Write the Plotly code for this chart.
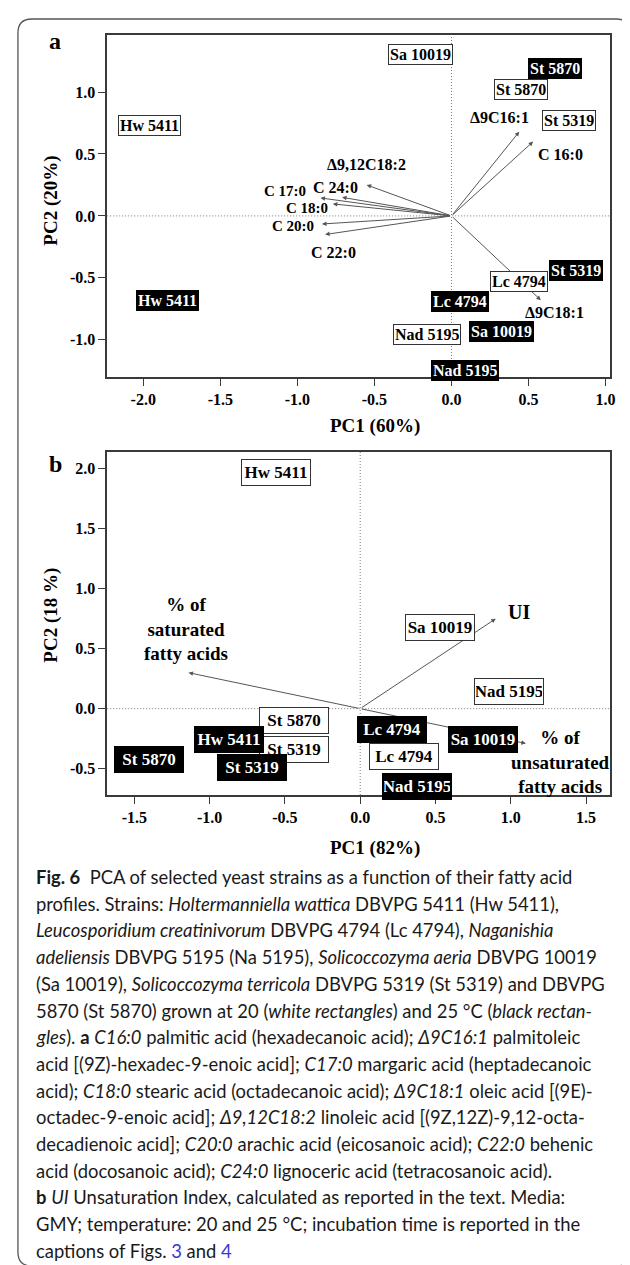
import plotly.graph_objects as go

W, H = 630, 1265

# ---------------- data: panel a ----------------
a_strains_20 = ["Hw 5411", "Sa 10019", "St 5870", "St 5319", "Lc 4794", "Nad 5195"]
a_pc1_20 = [-1.96, -0.20, 0.45, 0.76, 0.44, -0.16]
a_pc2_20 = [0.73, 1.30, 1.02, 0.77, -0.53, -0.96]

a_strains_25 = ["St 5870", "Hw 5411", "St 5319", "Lc 4794", "Sa 10019", "Nad 5195"]
a_pc1_25 = [0.67, -1.84, 0.805, 0.058, 0.325, 0.087]
a_pc2_25 = [1.19, -0.68, -0.44, -0.69, -0.93, -1.25]

a_vars = ["Δ9C16:1", "C 16:0", "Δ9,12C18:2", "C 24:0", "C 17:0", "C 18:0", "C 20:0", "C 22:0", "Δ9C18:1"]
a_load_pc1 = [0.44, 0.53, -0.55, -0.71, -0.85, -0.77, -0.84, -0.82, 0.58]
a_load_pc2 = [0.68, 0.60, 0.25, 0.15, 0.145, 0.097, -0.065, -0.15, -0.68]

a_xticks = [-2.0, -1.5, -1.0, -0.5, 0.0, 0.5, 1.0]
a_yticks = [-1.0, -0.5, 0.0, 0.5, 1.0]

# ---------------- data: panel b ----------------
b_strains_20 = ["Hw 5411", "Sa 10019", "Nad 5195", "St 5870", "St 5319", "Lc 4794"]
b_pc1_20 = [-0.56, 0.53, 0.99, -0.44, -0.44, 0.29]
b_pc2_20 = [1.97, 0.675, 0.14, -0.10, -0.34, -0.40]

b_strains_25 = ["Lc 4794", "Hw 5411", "Sa 10019", "St 5870", "St 5319", "Nad 5195"]
b_pc1_25 = [0.21, -0.87, 0.815, -1.40, -0.72, 0.375]
b_pc2_25 = [-0.175, -0.26, -0.26, -0.425, -0.49, -0.65]

b_vars = ["UI", "% of<br>saturated<br>fatty acids", "% of<br>unsaturated<br>fatty acids"]
b_load_pc1 = [0.90, -1.14, 1.10]
b_load_pc2 = [0.75, 0.30, -0.29]

b_xticks = [-1.5, -1.0, -0.5, 0.0, 0.5, 1.0, 1.5]
b_yticks = [-0.5, 0.0, 0.5, 1.0, 1.5, 2.0]

caption_lines = [
    "<b>Fig. 6</b>\u00a0\u00a0PCA of selected yeast strains as a function of their fatty acid",
    "profiles. Strains: <i>Holtermanniella wattica</i> DBVPG 5411 (Hw 5411),",
    "<i>Leucosporidium creatinivorum</i> DBVPG 4794 (Lc 4794), <i>Naganishia</i>",
    "<i>adeliensis</i> DBVPG 5195 (Na 5195), <i>Solicoccozyma aeria</i> DBVPG 10019",
    "(Sa 10019), <i>Solicoccozyma terricola</i> DBVPG 5319 (St 5319) and DBVPG",
    "5870 (St 5870) grown at 20 (<i>white rectangles</i>) and 25 °C (<i>black rectan-</i>",
    "<i>gles</i>). <b>a</b> <i>C16:0</i> palmitic acid (hexadecanoic acid); <i>Δ9C16:1</i> palmitoleic",
    "acid [(9Z)-hexadec-9-enoic acid]; <i>C17:0</i> margaric acid (heptadecanoic",
    "acid); <i>C18:0</i> stearic acid (octadecanoic acid); <i>Δ9C18:1</i> oleic acid [(9E)-",
    "octadec-9-enoic acid]; <i>Δ9,12C18:2</i> linoleic acid [(9Z,12Z)-9,12-octa-",
    "decadienoic acid]; <i>C20:0</i> arachic acid (eicosanoic acid); <i>C22:0</i> behenic",
    "acid (docosanoic acid); <i>C24:0</i> lignoceric acid (tetracosanoic acid).",
    "<b>b</b> <i>UI</i> Unsaturation Index, calculated as reported in the text. Media:",
    "GMY; temperature: 20 and 25 °C; incubation time is reported in the",
    "captions of Figs. <span style='color:#3a3ad0'>3</span> and <span style='color:#3a3ad0'>4</span>",
]

# ---------------- style / layout helpers ----------------
SERIF = "Liberation Serif"
def px(x):
    return x / W
def py(y):
    return 1 - y / H

# label offsets (pixels) relative to arrow tips, and label font sizes
a_label_shift = [(-20, 14), (27, -13), (0, 20), (-7, 10), (-35, 7), (-26, -4), (-29, -2), (8, -18), (14, -12)]
a_label_size = [16, 16, 16, 16, 15, 15, 15, 16, 16]
b_label_shift = [(23, 7), (-3, 44), (35, -19)]

fig = go.Figure()
fig.add_trace(go.Scatter(x=[None], y=[None], xaxis="x", yaxis="y", showlegend=False, hoverinfo="skip"))
fig.add_trace(go.Scatter(x=[None], y=[None], xaxis="x2", yaxis="y2", showlegend=False, hoverinfo="skip"))

axis_common = dict(
    showgrid=False, zeroline=False, showline=True, mirror=True,
    linecolor="#3a3a3a", linewidth=1.5, ticks="outside", ticklen=7,
    tickcolor="#3a3a3a", tickwidth=1.2,
    tickfont=dict(family=SERIF, size=16, color="black", weight="bold"),
)

def fmt(v):
    return f"{v:.1f}"

fig.update_layout(
    width=W, height=H,
    margin=dict(l=0, r=0, t=0, b=0),
    paper_bgcolor="white", plot_bgcolor="white",
    showlegend=False,
    xaxis=dict(axis_common, domain=[px(100), px(607)], range=[-2.234, 1.03], anchor="y",
               tickvals=a_xticks, ticktext=[fmt(v) for v in a_xticks]),
    yaxis=dict(axis_common, domain=[py(369), py(27)], range=[-1.30, 1.46], anchor="x",
               tickvals=a_yticks, ticktext=[fmt(v) for v in a_yticks]),
    xaxis2=dict(axis_common, domain=[px(100), px(607)], range=[-1.68, 1.66], anchor="y2",
                tickvals=b_xticks, ticktext=[fmt(v) for v in b_xticks]),
    yaxis2=dict(axis_common, domain=[py(787), py(444)], range=[-0.72, 2.14], anchor="x2",
                tickvals=b_yticks, ticktext=[fmt(v) for v in b_yticks]),
)

shapes = []
# dotted zero lines
for xr, yr in (("x", "y"), ("x2", "y2")):
    shapes.append(dict(type="line", xref=xr, yref=yr + " domain", x0=0, x1=0, y0=0, y1=1,
                       line=dict(color="#777", width=1, dash="1px,2px")))
    shapes.append(dict(type="line", xref=xr + " domain", yref=yr, x0=0, x1=1, y0=0, y1=0,
                       line=dict(color="#777", width=1, dash="1px,2px")))

# outer rounded frame
x0, x1, y0, y1, r = 10, 627, 11, 1258, 14
path = (f"M {px(x0)},{py(y0 + r)} Q {px(x0)},{py(y0)} {px(x0 + r)},{py(y0)} "
        f"L {px(x1 - r)},{py(y0)} Q {px(x1)},{py(y0)} {px(x1)},{py(y0 + r)} "
        f"L {px(x1)},{py(y1 - r)} Q {px(x1)},{py(y1)} {px(x1 - r)},{py(y1)} "
        f"L {px(x0 + r)},{py(y1)} Q {px(x0)},{py(y1)} {px(x0)},{py(y1 - r)} Z")
shapes.append(dict(type="path", xref="paper", yref="paper", path=path,
                   line=dict(color="#555", width=1.3)))

ann = []

def box(text, x, y, xr, yr, black, size, pad, hgt, wid=None):
    d = dict(
        text=text, x=x, y=y, xref=xr, yref=yr, showarrow=False,
        font=dict(family=SERIF, size=size, color="white" if black else "black", weight="bold"),
        bgcolor="black" if black else "white",
        bordercolor="black" if black else "#333", borderwidth=1,
        borderpad=pad, height=hgt, xanchor="center", yanchor="middle",
    )
    if wid:
        d["width"] = wid
    ann.append(d)

def arrow(x, y, xr, yr):
    ann.append(dict(
        x=x, y=y, ax=0, ay=0, xref=xr, yref=yr, axref=xr, ayref=yr, text="",
        showarrow=True, arrowhead=2, arrowsize=0.9, arrowwidth=1, arrowcolor="#555", standoff=0,
    ))

def label(text, x, y, xr, yr, dx, dy, size):
    ann.append(dict(
        text=text, x=x, y=y, xref=xr, yref=yr, xshift=dx, yshift=dy, showarrow=False,
        font=dict(family=SERIF, size=size, color="black", weight="bold"),
        xanchor="center", yanchor="middle", align="center",
    ))

# panel a
for i, v in enumerate(a_vars):
    arrow(a_load_pc1[i], a_load_pc2[i], "x", "y")
    label(v, a_load_pc1[i], a_load_pc2[i], "x", "y", a_label_shift[i][0], a_label_shift[i][1], a_label_size[i])
for s, x, y in zip(a_strains_20, a_pc1_20, a_pc2_20):
    box(s, x, y, "x", "y", False, 16, 1, 17)
for s, x, y in zip(a_strains_25, a_pc1_25, a_pc2_25):
    box(s, x, y, "x", "y", True, 16, 1, 17)

# panel b
for i, v in enumerate(b_vars):
    arrow(b_load_pc1[i], b_load_pc2[i], "x2", "y2")
    size = 20 if i == 0 else 19
    label(v, b_load_pc1[i], b_load_pc2[i], "x2", "y2", b_label_shift[i][0], b_label_shift[i][1], size)
for s, x, y in zip(b_strains_20, b_pc1_20, b_pc2_20):
    box(s, x, y, "x2", "y2", False, 17, 1, 23, 66)
for s, x, y in zip(b_strains_25, b_pc1_25, b_pc2_25):
    box(s, x, y, "x2", "y2", True, 17, 1, 23, 66)

# panel letters and axis titles
def ptext(text, x, y, size, angle=0, family=SERIF, weight="bold", xanchor="center"):
    ann.append(dict(text=text, x=px(x), y=py(y), xref="paper", yref="paper", showarrow=False,
                    font=dict(family=family, size=size, color="black", weight=weight),
                    textangle=angle, xanchor=xanchor, yanchor="middle"))

ptext("a", 47, 33, 24)
ptext("b", 48, 456, 24)
ptext("PC2 (20%)", 43, 193, 19, angle=-90)
ptext("PC1 (60%)", 370, 418, 19)
ptext("PC2 (18 %)", 43, 607, 19, angle=-90)
ptext("PC1 (82%)", 370, 840, 19)

# caption
for i, line in enumerate(caption_lines):
    ann.append(dict(text=line, x=px(26), y=py(869 + i * 26.7), xref="paper", yref="paper",
                    showarrow=False, xanchor="left", yanchor="middle", align="left",
                    font=dict(family="Lato", size=18.4, color="#1a1a1a")))

fig.update_layout(shapes=shapes, annotations=ann)
fig.write_html("out.html")
